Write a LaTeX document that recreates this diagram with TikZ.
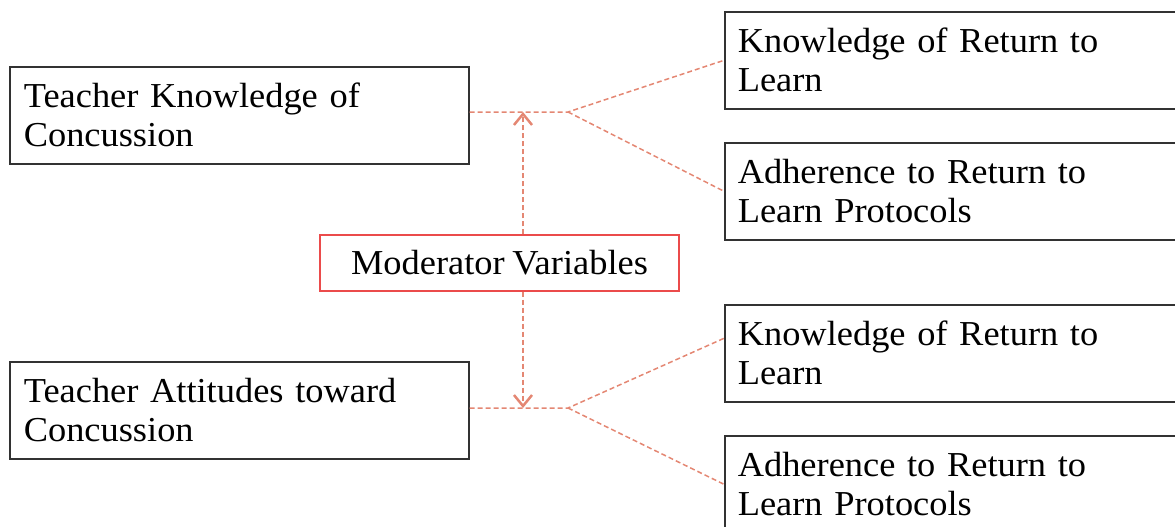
\documentclass[tikz,border=0pt]{standalone}
\usepackage{fontspec}
\setmainfont[FakeStretch=1.04,WordSpace=0.85]{Liberation Serif}
\usetikzlibrary{arrows.meta}
\definecolor{salmon}{RGB}{228,135,115}
\definecolor{modred}{RGB}{235,75,75}
\definecolor{boxgray}{RGB}{50,50,50}
\begin{document}
\begin{tikzpicture}[x=1pt,y=-1pt,
  lbox/.style={draw=boxgray,line width=1.6pt,fill=white,minimum height=97pt,
    align=left,inner xsep=14pt,inner ysep=0pt,text width=431pt,
    font=\fontsize{35}{39}\selectfont,anchor=north west},
  rbox/.style={lbox,inner xsep=13pt,text width=450pt},
  modbox/.style={draw=modred,line width=1.2pt,fill=white,minimum width=359pt,
    minimum height=56pt,inner sep=0pt,font=\fontsize{35}{39}\selectfont},
  conn/.style={draw=salmon,line width=1.5pt,dash pattern=on 5pt off 3pt},
  tip/.style={-{Straight Barb[length=11pt,width=18pt,line width=2.5pt]}}]
\useasboundingbox (0,0) rectangle (1175,527);
\clip (0,0) rectangle (1175,527);
\node[lbox] (tk) at (9,66) {Teacher Knowledge of\\Concussion};
\node[lbox] (ta) at (9,361) {Teacher Attitudes toward\\Concussion};
\node[rbox] (r1) at (724,11) {Knowledge of Return to\\Learn};
\node[rbox] (r2) at (724,142) {Adherence to Return to\\Learn Protocols};
\node[rbox] (r3) at (724,304) {Knowledge of Return to\\Learn};
\node[rbox] (r4) at (724,435) {Adherence to Return to\\Learn Protocols};
\node[modbox] (mv) at (499.5,263) {Moderator Variables};
\coordinate (jt) at (568,112);
\coordinate (jb) at (568,408);
\coordinate (at) at (523,112);
\coordinate (ab) at (523,408);
\draw[conn] (tk.east |- jt) -- (jt) -- (r1.west);
\draw[conn] (jt) -- (r2.west);
\draw[conn] (ta.east |- jb) -- (jb) -- ([yshift=15pt]r3.west);
\draw[conn] (jb) -- (r4.west);
\draw[conn,tip] (mv.north -| at) -- (at);
\draw[conn,tip] (mv.south -| ab) -- (ab);
\end{tikzpicture}
\end{document}
